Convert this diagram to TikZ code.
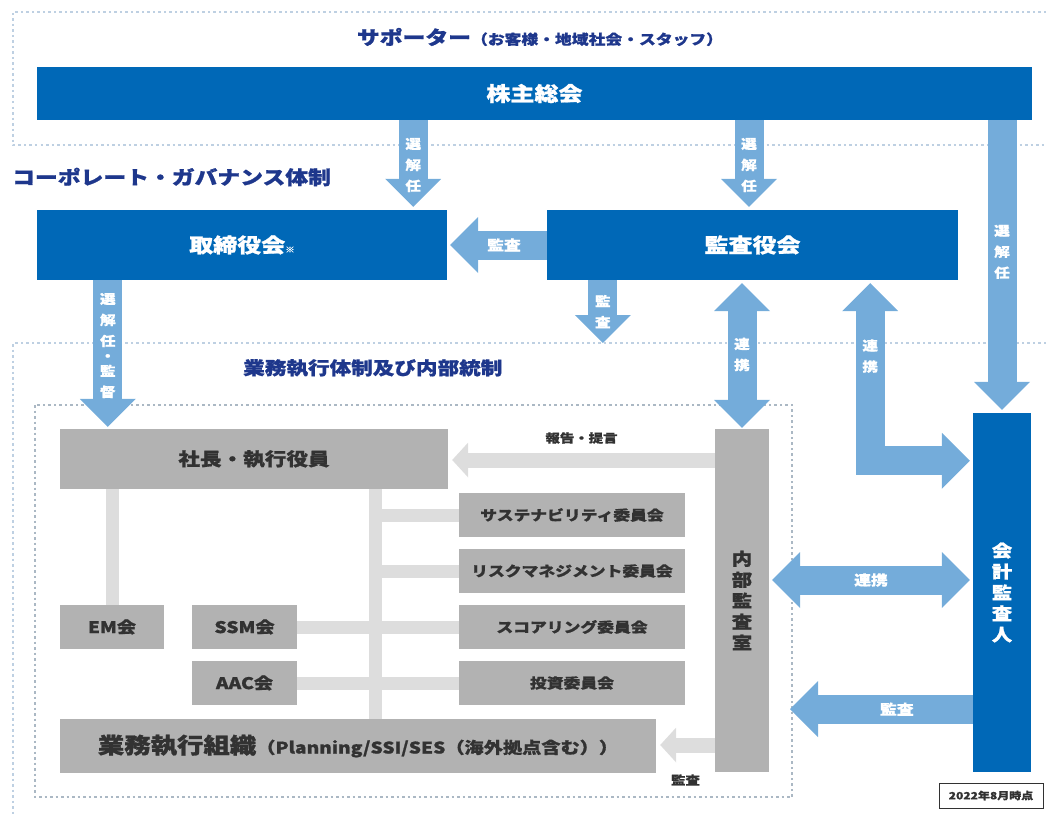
\documentclass[tikz,border=0pt]{standalone}
\usepackage{fontspec}
\setmainfont{Noto Sans CJK JP}[FakeStretch=1.2,BoldFeatures={FakeBold=1}]
\usetikzlibrary{arrows.meta,positioning}
\definecolor{kblue}{RGB}{0,104,183}
\definecolor{klight}{RGB}{116,172,218}
\definecolor{kgray}{RGB}{178,178,178}
\definecolor{kline}{RGB}{221,221,221}
\definecolor{knavy}{RGB}{30,55,140}
\definecolor{kdot}{RGB}{190,208,226}
\definecolor{ktext}{RGB}{50,50,50}
\tikzset{
  bluebox/.style={fill=kblue,text=white,inner sep=0pt,align=center},
  graybox/.style={fill=kgray,text=ktext,inner sep=0pt,align=center},
  sz/.style={font=\bfseries\fontsize{#1}{#1}\selectfont},
  bigarr/.style={draw=klight,line width=29pt,line join=miter,-{Triangle[length=28pt,width=56pt,line width=0pt]}},
  bigboth/.style={draw=klight,line width=29pt,line join=miter,{Triangle[length=28pt,width=56pt,line width=0pt]}-{Triangle[length=28pt,width=56pt,line width=0pt]}},
  grayarr/.style={draw=kline,line width=15pt,-{Triangle[length=16pt,width=35pt,line width=0pt]}},
  link/.style={draw=kline,line width=13pt},
  arrlbl/.style={text=white,align=center,font=\bfseries\fontsize{13}{21}\selectfont},
  harrlbl/.style={arrlbl,font=\bfseries\fontsize{14}{14}\selectfont},
  sepline/.style={draw=kdot,line width=1.2pt,dash pattern=on 2.5pt off 3pt}
}
\begin{document}
\begin{tikzpicture}[x=1pt,y=-1pt]
\useasboundingbox (0,0) rectangle (1046,816);

% frames
\coordinate (topL) at (13,12);
\coordinate (midL) at (13,145);
\coordinate (lowL) at (13,343);
\coordinate (inSE) at (792,797);
\draw[sepline] (1046,12) -- (topL) -- (midL) -- (1046,145);
\draw[sepline] (1046,343) -- (lowL) -- (13,816);
\draw[sepline,draw=kdot!70!gray] (35,405) rectangle (inSE);

\node[text=knavy,inner sep=0pt] (supporter) at (540,37) {\bfseries\fontsize{19}{19}\selectfont サポーター\fontsize{14}{14}\selectfont （お客様・地域社会・スタッフ）};
\node[text=knavy,sz=19,anchor=west,inner sep=0pt] (cgov) at (12,177) {コーポレート・ガバナンス体制};
\node[text=knavy,sz=18,anchor=west,inner sep=0pt] (naitou) at (243,368) {業務執行体制及び内部統制};

\node[bluebox,sz=20,minimum width=995,minimum height=53] (kabunushi) at (534.5,93.5) {株主総会};
\node[bluebox,sz=20,minimum width=410,minimum height=70] (tori) at (242,245) {取締役会{\fontsize{8}{8}\selectfont ※}};
\node[bluebox,sz=20,minimum width=411,minimum height=70] (kansa) at (752.5,245) {監査役会};
\node[graybox,sz=18,minimum width=388,minimum height=60] (shacho) at (254,459) {社長・執行役員};
\node[graybox,sz=16,minimum width=104,minimum height=44] (em) at (112,627) {EM会};
\node[graybox,sz=16,minimum width=105,minimum height=44] (ssm) at (244.5,627) {SSM会};
\node[graybox,sz=16,minimum width=105,minimum height=44] (aac) at (244.5,683) {AAC会};
\node[graybox,sz=16,minimum width=596,minimum height=54] (gyomu) at (358,746) {{\fontsize{22}{22}\selectfont 業務執行組織}（Planning/SSI/SES（海外拠点含む））};
\node[graybox,font=\bfseries\fontsize{17}{21}\selectfont,minimum width=54,minimum height=343] (naibu) at (742,600.5) {内\\部\\監\\査\\室};
\node[bluebox,font=\bfseries\fontsize{17}{21}\selectfont,minimum width=58,minimum height=359] (kaikei) at (1002,592.5) {会\\計\\監\\査\\人};
\node[draw=ktext,line width=0.8pt,inner sep=0pt,minimum width=104,minimum height=25,text=ktext,sz=10] (asof) at (991,795.5) {2022年8月時点};

\coordinate (trunk) at ([xshift=316pt]shacho.south west);
\foreach \n/\t/\y in {sus/サステナビリティ委員会/515,risk/リスクマネジメント委員会/571,score/スコアリング委員会/627,toshi/投資委員会/683}
  {
    \node[graybox,sz=14,minimum width=226,minimum height=44] (\n) at (572,\y) {\t};
    \draw[link] (\n.west) -- (\n.west -| trunk);
  }
\draw[link] (em.north) -- (em.north |- shacho.south);
\draw[link] (trunk) -- (trunk |- gyomu.north);
\draw[link] (ssm.east) -- (score.west);
\draw[link] (aac.east) -- (toshi.west);

\coordinate (toriIn) at ([xshift=-34pt]tori.north east);
\coordinate (kansaIn) at ([xshift=-3.5pt]kansa.north);
\coordinate (toriOut) at ([xshift=71pt]tori.south west);
\coordinate (kansaOut) at ([xshift=56pt]kansa.south west);
\coordinate (bentTop) at ([xshift=-88pt]kansa.south east);
\coordinate (bentEnd) at ([yshift=-48pt]kaikei.north west);
\coordinate (renL) at ([yshift=20.5pt]naibu.east);
\coordinate (kaikeiOut) at ([yshift=63pt]kaikei.south west);
\coordinate (hokoku) at ([yshift=140.5pt]naibu.west);
\coordinate (naibuG) at ([yshift=-144.5pt]naibu.west);

\draw[bigarr,shorten >=3pt] (toriIn |- kabunushi.south) -- node[arrlbl]{選\\解\\任} (toriIn);
\draw[bigarr,shorten >=3pt] (kansaIn |- kabunushi.south) -- node[arrlbl]{選\\解\\任} (kansaIn);
\draw[bigarr,shorten >=3pt] (kaikei.north |- kabunushi.south) -- node[arrlbl,pos=0.45]{選\\解\\任} (kaikei.north);
\draw[bigarr,shorten >=3pt] (kansa.west) -- node[harrlbl,pos=0.43]{監査} (tori.east);
\draw[bigarr] (kansaOut) -- node[arrlbl]{監\\査} (kansaOut |- lowL);
\draw[bigarr,shorten >=2pt] (toriOut) -- node[arrlbl,pos=0.44]{選\\解\\任\\[-6pt]・\\[-6pt]監\\督} (toriOut |- shacho.north);
\draw[bigboth,shorten <=3pt,shorten >=1pt] (naibu.north |- kansa.south) -- node[arrlbl]{連\\携} (naibu.north);
\draw[bigboth,shorten <=3pt,shorten >=3pt] (bentTop) |- node[arrlbl,pos=0.21]{連\\携} (bentEnd);
\draw[bigboth,shorten <=3pt,shorten >=3pt] (renL) -- node[harrlbl]{連携} (renL -| kaikei.west);
\draw[bigarr,shorten >=-2pt] (kaikeiOut) -- node[harrlbl,pos=0.42]{監査} (kaikeiOut -| inSE);

\draw[grayarr,shorten >=4pt] (hokoku) -- node[midway,yshift=22pt,text=ktext,sz=12]{報告・提言} (hokoku -| shacho.east);
\draw[grayarr,shorten >=4pt] (naibuG) -- node[midway,yshift=-35pt,text=ktext,sz=12]{監査} (naibuG -| gyomu.east);
\end{tikzpicture}
\end{document}
